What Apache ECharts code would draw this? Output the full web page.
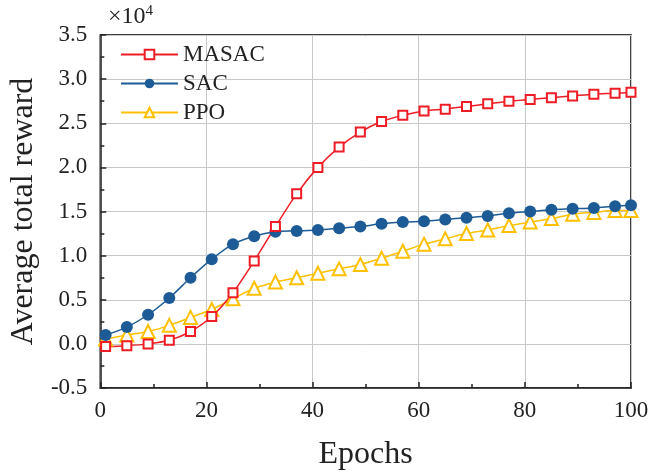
<!DOCTYPE html>
<html><head><meta charset="utf-8">
<script src="https://cdn.jsdelivr.net/npm/echarts@6/dist/echarts.min.js"></script>
<style>html,body{margin:0;padding:0;background:#fff}#c{width:664px;height:476px}</style>
</head><body><div id="c"></div>
<script>
const epochs = [1,5,9,13,17,21,25,29,33,37,41,45,49,53,57,61,65,69,73,77,81,85,89,93,97,100];
const masac = [-0.03,-0.02,0.0,0.04,0.14,0.31,0.58,0.94,1.33,1.70,2.00,2.23,2.40,2.52,2.59,2.64,2.66,2.69,2.72,2.75,2.77,2.79,2.81,2.83,2.84,2.85];
const sac = [0.10,0.19,0.33,0.52,0.75,0.96,1.13,1.22,1.27,1.28,1.29,1.31,1.33,1.36,1.38,1.39,1.41,1.43,1.45,1.48,1.50,1.52,1.53,1.54,1.56,1.57];
const ppo = [0.055,0.10,0.14,0.21,0.30,0.39,0.51,0.63,0.70,0.75,0.80,0.85,0.90,0.97,1.05,1.13,1.19,1.25,1.29,1.34,1.38,1.42,1.47,1.49,1.51,1.51];
const names = ['MASAC','SAC','PPO'];
const colors = ['#EE1C25','#1C5B96','#FFC000'];
const F = 'Liberation Serif, Times New Roman, serif';
const pair = a => epochs.map((x,i)=>[x,a[i]]);
const chart = echarts.init(document.getElementById('c'));
const base = {type:'line', smooth:0.3, lineStyle:{width:1.5}};
chart.setOption({
  animation:false,
  grid:{left:98,right:33,top:35,bottom:86,show:true,borderColor:'#000',borderWidth:1.5,backgroundColor:'transparent'},
  graphic:[{type:'text',left:108,top:4,style:{text:'×10{s|4}',rich:{s:{fontSize:15,verticalAlign:'top',padding:[0,0,11,0],fontFamily:F,fill:'#222'}},font:'24px '+F,fill:'#222'}}],
  legend:{orient:'vertical',left:115,top:38,itemWidth:57,itemHeight:12,itemGap:6,
    textStyle:{fontFamily:F,fontSize:23,color:'#222'},data:names},
  xAxis:{type:'value',min:0,max:100,interval:20,name:'Epochs',nameLocation:'middle',nameGap:51,
    nameTextStyle:{fontFamily:F,fontSize:32,color:'#222'},
    axisLine:{onZero:false,lineStyle:{color:'#222',width:1.5}},
    axisTick:{inside:true,length:6,lineStyle:{color:'#222',width:1.5}},
    minorTick:{show:true,splitNumber:2,length:4,lineStyle:{color:'#222',width:1.5}},
    axisLabel:{fontFamily:F,fontSize:23,color:'#222',margin:11},
    splitLine:{show:true,lineStyle:{color:'#c8c8c8',width:1}}},
  yAxis:{type:'value',min:-0.5,max:3.5,interval:0.5,name:'Average total reward',nameLocation:'middle',nameGap:53,
    nameTextStyle:{fontFamily:F,fontSize:32,color:'#222'},
    axisLine:{show:true,onZero:false,lineStyle:{color:'#222',width:1.5}},
    axisTick:{show:true,inside:true,length:6,lineStyle:{color:'#222',width:1.5}},
    minorTick:{show:true,splitNumber:2,length:4,lineStyle:{color:'#222',width:1.5}},
    axisLabel:{fontFamily:F,fontSize:23,color:'#222',margin:13,formatter:v=>v.toFixed(1)},
    splitLine:{show:true,lineStyle:{color:'#c8c8c8',width:1}}},
  series:[
    Object.assign({},base,{name:names[2],data:pair(ppo),symbol:'emptyTriangle',symbolSize:13,
      itemStyle:{color:colors[2],borderWidth:2},lineStyle:{width:1.5,color:colors[2]}}),
    Object.assign({},base,{name:names[1],data:pair(sac),symbol:'circle',symbolSize:12,
      itemStyle:{color:colors[1]},lineStyle:{width:1.5,color:colors[1]}}),
    Object.assign({},base,{name:names[0],data:pair(masac),symbol:'emptyRect',symbolSize:9,
      itemStyle:{color:colors[0],borderWidth:1.5},lineStyle:{width:1.5,color:colors[0]}})
  ]
});
</script></body></html>
